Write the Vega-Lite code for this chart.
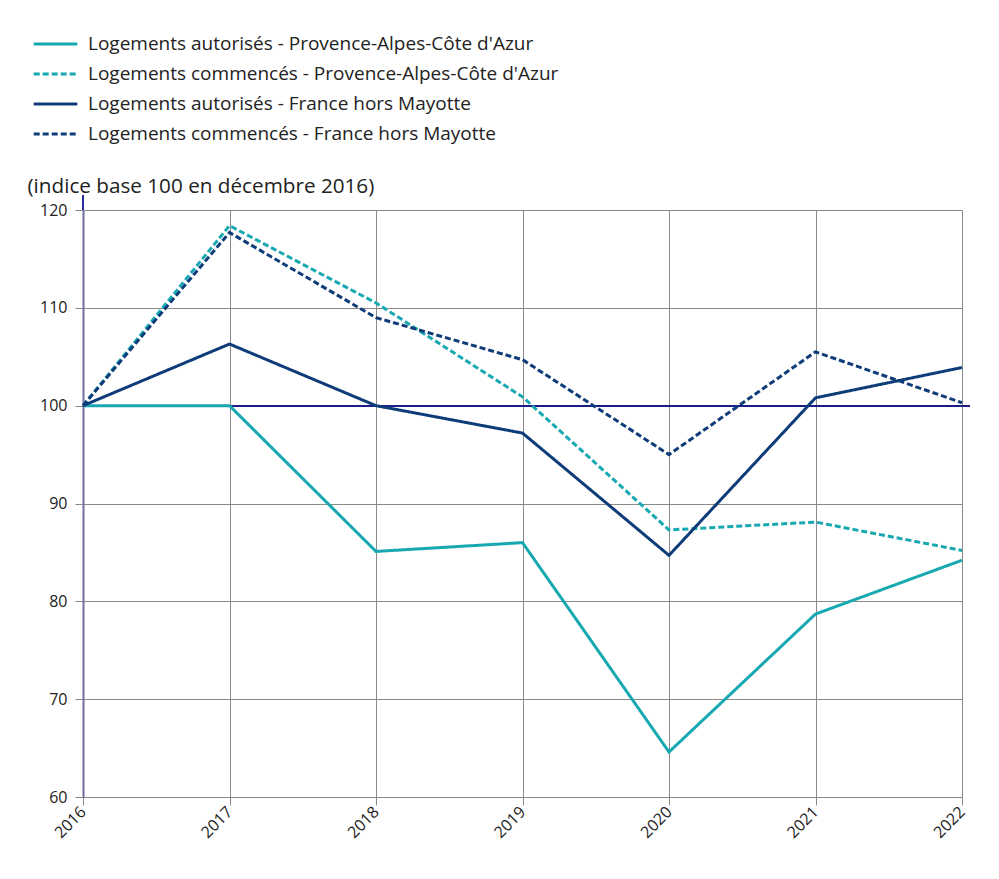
{
  "$schema": "https://vega.github.io/schema/vega-lite/v6.json",
  "autosize": {"type": "none"},
  "width": 879,
  "height": 587,
  "padding": {"left": 83, "top": 210, "right": 37, "bottom": 82},
  "background": "white",
  "config": {
    "font": "Open Sans",
    "view": {"stroke": null}
  },
  "data": {
    "values": [
      {"annee": 2016, "serie": "Logements autorisés - Provence-Alpes-Côte d'Azur", "valeur": 100},
      {"annee": 2017, "serie": "Logements autorisés - Provence-Alpes-Côte d'Azur", "valeur": 100},
      {"annee": 2018, "serie": "Logements autorisés - Provence-Alpes-Côte d'Azur", "valeur": 85.1},
      {"annee": 2019, "serie": "Logements autorisés - Provence-Alpes-Côte d'Azur", "valeur": 86.0},
      {"annee": 2020, "serie": "Logements autorisés - Provence-Alpes-Côte d'Azur", "valeur": 64.6},
      {"annee": 2021, "serie": "Logements autorisés - Provence-Alpes-Côte d'Azur", "valeur": 78.7},
      {"annee": 2022, "serie": "Logements autorisés - Provence-Alpes-Côte d'Azur", "valeur": 84.2},
      {"annee": 2016, "serie": "Logements commencés - Provence-Alpes-Côte d'Azur", "valeur": 100},
      {"annee": 2017, "serie": "Logements commencés - Provence-Alpes-Côte d'Azur", "valeur": 118.4},
      {"annee": 2018, "serie": "Logements commencés - Provence-Alpes-Côte d'Azur", "valeur": 110.5},
      {"annee": 2019, "serie": "Logements commencés - Provence-Alpes-Côte d'Azur", "valeur": 100.9},
      {"annee": 2020, "serie": "Logements commencés - Provence-Alpes-Côte d'Azur", "valeur": 87.3},
      {"annee": 2021, "serie": "Logements commencés - Provence-Alpes-Côte d'Azur", "valeur": 88.1},
      {"annee": 2022, "serie": "Logements commencés - Provence-Alpes-Côte d'Azur", "valeur": 85.2},
      {"annee": 2016, "serie": "Logements autorisés - France hors Mayotte", "valeur": 100},
      {"annee": 2017, "serie": "Logements autorisés - France hors Mayotte", "valeur": 106.3},
      {"annee": 2018, "serie": "Logements autorisés - France hors Mayotte", "valeur": 100.0},
      {"annee": 2019, "serie": "Logements autorisés - France hors Mayotte", "valeur": 97.2},
      {"annee": 2020, "serie": "Logements autorisés - France hors Mayotte", "valeur": 84.7},
      {"annee": 2021, "serie": "Logements autorisés - France hors Mayotte", "valeur": 100.8},
      {"annee": 2022, "serie": "Logements autorisés - France hors Mayotte", "valeur": 103.9},
      {"annee": 2016, "serie": "Logements commencés - France hors Mayotte", "valeur": 100},
      {"annee": 2017, "serie": "Logements commencés - France hors Mayotte", "valeur": 117.7},
      {"annee": 2018, "serie": "Logements commencés - France hors Mayotte", "valeur": 109.0},
      {"annee": 2019, "serie": "Logements commencés - France hors Mayotte", "valeur": 104.7},
      {"annee": 2020, "serie": "Logements commencés - France hors Mayotte", "valeur": 95.0},
      {"annee": 2021, "serie": "Logements commencés - France hors Mayotte", "valeur": 105.5},
      {"annee": 2022, "serie": "Logements commencés - France hors Mayotte", "valeur": 100.3}
    ]
  },
  "layer": [
    {
      "mark": {"type": "rule", "color": "#1c1c85", "strokeWidth": 1.5, "x2Offset": 8},
      "encoding": {
        "y": {"datum": 100, "type": "quantitative"},
        "x": {"datum": 2016, "type": "quantitative"},
        "x2": {"datum": 2022}
      }
    },
    {
      "mark": {"type": "rule", "color": "#2a2aa0", "strokeWidth": 2, "y2Offset": -15},
      "encoding": {
        "x": {"datum": 2016, "type": "quantitative"},
        "y": {"datum": 120, "type": "quantitative"},
        "y2": {"datum": 120}
      }
    },
    {
      "mark": {"type": "line", "strokeWidth": 3, "strokeJoin": "miter"},
      "encoding": {
        "x": {
          "field": "annee",
          "type": "quantitative",
          "scale": {"domain": [2016, 2022], "nice": false, "zero": false},
          "axis": {
            "values": [2016, 2017, 2018, 2019, 2020, 2021, 2022],
            "format": "d",
            "title": null,
            "labelAngle": -45,
            "labelAlign": "right",
            "labelBaseline": "middle",
            "labelFontSize": 16,
            "labelColor": "#222222",
            "labelPadding": 4,
            "grid": true,
            "gridColor": "#8a8a8a",
            "gridWidth": 1,
            "gridOpacity": 1,
            "domainColor": "#8a8a8a",
            "tickColor": "#8a8a8a",
            "tickSize": 8
          }
        },
        "y": {
          "field": "valeur",
          "type": "quantitative",
          "scale": {"domain": [60, 120], "nice": false, "zero": false},
          "axis": {
            "values": [60, 70, 80, 90, 100, 110, 120],
            "title": "(indice base 100 en décembre 2016)",
            "titleAngle": 0,
            "titleAlign": "left",
            "titleBaseline": "bottom",
            "titleX": -56,
            "titleY": -14,
            "titleFontSize": 20.7,
            "titleFontWeight": "normal",
            "titleColor": "#222222",
            "labelFontSize": 16,
            "labelColor": "#222222",
            "labelPadding": 8,
            "grid": true,
            "gridColor": "#8a8a8a",
            "gridWidth": 1,
            "gridOpacity": 1,
            "domainColor": "#6f6f9f",
            "domainWidth": 2,
            "tickColor": "#8a8a8a",
            "tickSize": 8
          }
        },
        "color": {
          "field": "serie",
          "type": "nominal",
          "scale": {
            "domain": [
              "Logements autorisés - Provence-Alpes-Côte d'Azur",
              "Logements commencés - Provence-Alpes-Côte d'Azur",
              "Logements autorisés - France hors Mayotte",
              "Logements commencés - France hors Mayotte"
            ],
            "range": ["#17a8b2", "#17a8b2", "#0e3c78", "#0e3c78"]
          },
          "legend": {
            "title": null,
            "orient": "none",
            "legendX": -51,
            "legendY": -178,
            "direction": "vertical",
            "symbolType": "stroke",
            "symbolSize": 1900,
            "symbolStrokeWidth": 3,
            "labelFontSize": 19,
            "labelColor": "#222222",
            "labelOffset": 9,
            "labelLimit": 700,
            "clipHeight": 24,
            "rowPadding": 6
          }
        },
        "strokeDash": {
          "field": "serie",
          "type": "nominal",
          "scale": {
            "domain": [
              "Logements autorisés - Provence-Alpes-Côte d'Azur",
              "Logements commencés - Provence-Alpes-Côte d'Azur",
              "Logements autorisés - France hors Mayotte",
              "Logements commencés - France hors Mayotte"
            ],
            "range": [[1, 0], [6, 3], [1, 0], [6, 3]]
          },
          "legend": {
            "title": null,
            "orient": "none",
            "legendX": -51,
            "legendY": -178,
            "direction": "vertical",
            "symbolType": "stroke",
            "symbolSize": 1900,
            "symbolStrokeWidth": 3,
            "labelFontSize": 19,
            "labelColor": "#222222",
            "labelOffset": 9,
            "labelLimit": 700,
            "clipHeight": 24,
            "rowPadding": 6
          }
        }
      }
    }
  ]
}
